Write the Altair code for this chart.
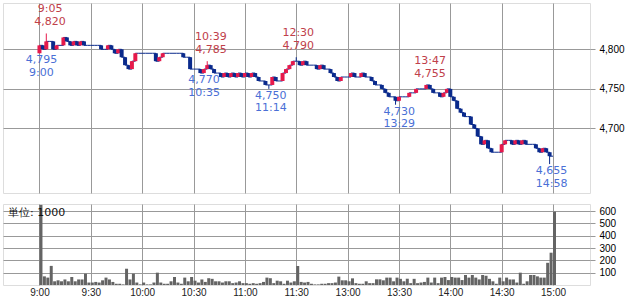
import altair as alt
import pandas as pd

# ---- price data: 2-minute closes (morning 9:00-11:28, afternoon 12:30-15:00)
morning_close = [
    4805, 4800, 4810, 4810, 4800, 4805, 4805, 4815, 4810, 4805,
    4810, 4805, 4810, 4805, 4805, 4805, 4805, 4805, 4800, 4800,
    4805, 4800, 4795, 4800, 4790, 4780, 4775, 4785, 4795, 4795,
    4795, 4795, 4795, 4795, 4785, 4790, 4795, 4795, 4795, 4795,
    4795, 4795, 4790, 4790, 4775, 4775, 4775, 4770, 4775, 4780,
    4775, 4770, 4770, 4765, 4770, 4765, 4770, 4765, 4770, 4765,
    4770, 4765, 4770, 4765, 4760, 4760, 4755, 4755, 4765, 4760,
    4760, 4770, 4775, 4780, 4785,
]
afternoon_close = [
    4785, 4780, 4785, 4780, 4780, 4780, 4775, 4780, 4775, 4775,
    4770, 4765, 4760, 4765, 4765, 4765, 4770, 4765, 4765, 4770,
    4765, 4765, 4760, 4755, 4755, 4750, 4745, 4740, 4740, 4735,
    4740, 4740, 4740, 4745, 4745, 4750, 4750, 4750, 4755, 4750,
    4745, 4745, 4740, 4745, 4750, 4740, 4735, 4725, 4720, 4715,
    4715, 4705, 4700, 4690, 4680, 4685, 4675, 4670, 4670, 4670,
    4680, 4685, 4685, 4680, 4685, 4680, 4685, 4680, 4680, 4680,
    4675, 4670, 4675, 4670, 4665, 4665,
]
first_open = 4795
wick_high = {4: 4820, 98: 4785, 150: 4790, 226: 4755}
wick_low = {0: 4795, 94: 4770, 134: 4750, 208: 4730, 298: 4655}

# ---- volume (unit: 1000 shares), same 2-minute slots
volume = [
    650, 70, 60, 155, 30, 38, 30, 45, 30, 65,
    30, 45, 45, 92, 20, 20, 25, 20, 38, 60,
    45, 25, 10, 10, 5, 132, 45, 92, 20, 5,
    20, 5, 5, 20, 100, 20, 10, 10, 30, 65,
    20, 10, 60, 30, 65, 35, 20, 45, 25, 55,
    50, 30, 30, 20, 30, 30, 15, 20, 30, 15,
    15, 10, 15, 10, 15, 25, 60, 55, 15, 35,
    30, 10, 35, 20, 30,
    154, 25, 20, 25, 10, 5, 5, 10, 10, 15,
    15, 20, 68, 38, 38, 30, 54, 15, 10, 10,
    30, 15, 15, 46, 46, 38, 60, 60, 30, 60,
    50, 30, 51, 15, 50, 15, 20, 25, 60, 20,
    60, 15, 60, 65, 40, 65, 60, 60, 40, 81,
    60, 81, 60, 45, 81, 75, 50, 30, 10, 60,
    30, 60, 45, 45, 20, 100, 10, 30, 81, 81,
    70, 60, 60, 180, 262, 595,
]

# ---- annotations
hi_times = ["9:05", "10:39", "12:30", "13:47"]
hi_prices = [4820, 4785, 4790, 4755]
lo_times = ["9:00", "10:35", "11:14", "13:29", "14:58"]
lo_prices = [4795, 4770, 4750, 4730, 4655]

# ---- axes
tick_minutes = [0, 30, 60, 90, 120, 150, 180, 210, 240, 270, 300]
tick_labels = ["9:00", "9:30", "10:00", "10:30", "11:00", "11:30",
               "13:00", "13:30", "14:00", "14:30", "15:00"]
price_ticks = [4700, 4750, 4800]
vol_ticks = [100, 200, 300, 400, 500, 600]

RED = "#e6194b"
NAVY = "#0a2a8c"
RED_TXT = "#c0404a"
BLUE_TXT = "#4a6fd6"
GRID = "#999999"
FONT = "DejaVu Sans"


def to_m(t):
    h, mm = map(int, t.split(":"))
    tot = h * 60 + mm
    return tot - 540 if tot < 750 else tot - 600


ms = list(range(0, 150, 2)) + list(range(150, 302, 2))
closes = morning_close + afternoon_close
opens = [first_open] + closes[:-1]
rows = []
for m, o, c in zip(ms, opens, closes):
    hi = max(o, c, wick_high.get(m, 0))
    lo = min(o, c, wick_low.get(m, 99999))
    rows.append(dict(m=m, open=o, close=c, high=hi, low=lo,
                     dir="up" if c > o else "down"))
candles = pd.DataFrame(rows)
vol_df = pd.DataFrame(dict(m=ms, vol=volume))
hi_df = pd.DataFrame(dict(m=[to_m(t) for t in hi_times], price=hi_prices,
                          t=hi_times, p=[f"{p:,}" for p in hi_prices]))
lo_df = pd.DataFrame(dict(m=[to_m(t) for t in lo_times], price=lo_prices,
                          t=lo_times, p=[f"{p:,}" for p in lo_prices]))

xscale = alt.Scale(domain=[-21.3, 321.6], nice=False, zero=False, padding=0)
pscale = alt.Scale(domain=[4618.5, 4858.5], nice=False, zero=False, padding=0)
vscale = alt.Scale(domain=[0, 657], nice=False, zero=True, padding=0)
color = alt.Color("dir:N", scale=alt.Scale(domain=["up", "down"], range=[RED, NAVY]), legend=None)

x_axis = alt.Axis(values=tick_minutes, grid=True, labels=False, ticks=False,
                  domain=False, title=None, gridColor=GRID)
p_axis = alt.Axis(orient="right", values=price_ticks, labelExpr="format(datum.value, ',')",
                  grid=True, gridColor=GRID, tickSize=5, tickColor=GRID, domain=False,
                  labelPadding=4, title=None)


def X():
    return alt.X("m:Q", scale=xscale, axis=x_axis)


def Y(field):
    return alt.Y(field, scale=pscale, axis=p_axis)


base = alt.Chart(candles)
step = base.mark_line(interpolate="step-after", color=NAVY, strokeWidth=1).encode(x=X(), y=Y("close:Q"))
wicks = base.mark_rule(strokeWidth=1).encode(x=X(), y=Y("low:Q"), y2="high:Q", color=color)
bodies = base.mark_bar(width=4).encode(x=X(), y=Y("open:Q"), y2="close:Q", color=color)

txt = dict(font=FONT, fontSize=11, dx=2, baseline="middle")
hi_t = alt.Chart(hi_df).mark_text(color=RED_TXT, dy=-24, **txt).encode(x=X(), y=Y("price:Q"), text="t:N")
hi_p = alt.Chart(hi_df).mark_text(color=RED_TXT, dy=-11, **txt).encode(x=X(), y=Y("price:Q"), text="p:N")
lo_p = alt.Chart(lo_df).mark_text(color=BLUE_TXT, dy=7, **txt).encode(x=X(), y=Y("price:Q"), text="p:N")
lo_t = alt.Chart(lo_df).mark_text(color=BLUE_TXT, dy=19.5, **txt).encode(x=X(), y=Y("price:Q"), text="t:N")

top = alt.layer(step, wicks, bodies, hi_t, hi_p, lo_p, lo_t).properties(width=587, height=190)

label_expr = "[" + ",".join(f"'{l}'" for l in tick_labels) + "][round(datum.value/30)]"
vbars = alt.Chart(vol_df).mark_bar(width=3, xOffset=1.5, color="#646464").encode(
    x=alt.X("m:Q", scale=xscale,
            axis=alt.Axis(values=tick_minutes, grid=True, gridColor=GRID, labelExpr=label_expr,
                          ticks=False, domain=False, labelPadding=2, title=None,
                          labelColor="#222222")),
    y=alt.Y("vol:Q", scale=vscale,
            axis=alt.Axis(orient="right", values=vol_ticks, format="d", grid=True,
                          gridColor=GRID, tickSize=5, tickColor=GRID, domain=False,
                          labelPadding=4, title=None)),
)
unit = alt.Chart(pd.DataFrame(dict(t=["単位: 1000"]))).mark_text(
    align="left", baseline="middle", font=FONT, fontSize=11, color="#111111"
).encode(x=alt.value(5), y=alt.value(9), text="t:N")
bottom = alt.layer(vbars, unit).properties(width=587, height=81)

chart = alt.vconcat(top, bottom, spacing=9).properties(
    padding={"left": 2, "top": 2, "right": 0, "bottom": 0}
).configure_view(stroke=GRID, strokeWidth=1).configure_axis(
    labelFont=FONT, labelFontSize=11, labelColor="#222222"
).configure(background="white")

chart.save("out.html", embed_options={"renderer": "svg", "actions": False})
